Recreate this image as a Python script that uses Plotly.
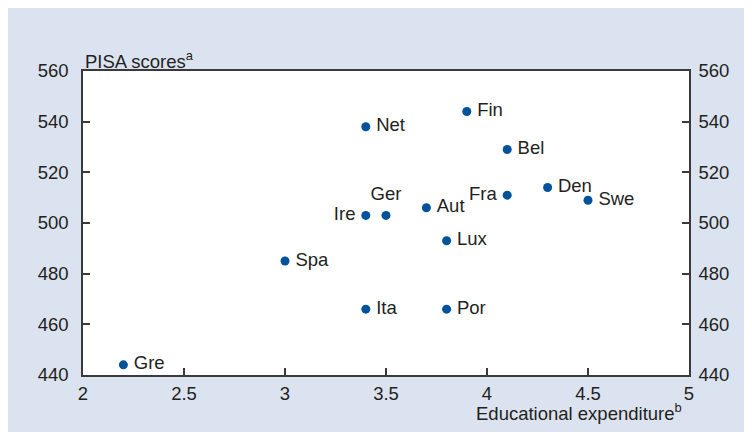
import plotly.graph_objects as go

countries = ["Gre", "Spa", "Ita", "Por", "Ire", "Ger", "Aut", "Lux", "Net", "Fin", "Bel", "Fra", "Den", "Swe"]
expenditure = [2.2, 3.0, 3.4, 3.8, 3.4, 3.5, 3.7, 3.8, 3.4, 3.9, 4.1, 4.1, 4.3, 4.5]
pisa = [444, 485, 466, 466, 503, 503, 506, 493, 538, 544, 529, 511, 514, 509]
label_pos = ["middle right", "middle right", "middle right", "middle right", "middle left",
             "top center", "middle right", "middle right", "middle right", "middle right",
             "middle right", "middle left", "middle right", "middle right"]
x_ticks = [2, 2.5, 3, 3.5, 4, 4.5, 5]
y_ticks = [440, 460, 480, 500, 520, 540, 560]

OFF = 8  # page body margin
W, H = 744, 424
L, T = 83 - OFF, 71 - OFF
pw, ph = 606, 304
R = W - L - pw
B = H - T - ph

def px2paperx(p):
    return (p - OFF - L) / pw

def py2papery(p):
    return (T + ph - (p - OFF)) / ph

TXT = "#231f20"
LINE = "#3a3a3a"
BG = "#dce3f0"
FONT = "Liberation Sans, Arial, sans-serif"
FS = 18.5

fig = go.Figure()
fig.add_trace(go.Scatter(
    x=expenditure, y=pisa, mode="markers",
    marker=dict(size=9, color="#00539b"),
    cliponaxis=False, showlegend=False,
))
fig.add_trace(go.Scatter(
    x=expenditure, y=pisa, mode="markers+text", text=countries,
    textposition=label_pos,
    textfont=dict(family=FONT, size=FS, color=TXT),
    marker=dict(size=15, color="rgba(0,0,0,0)"),
    cliponaxis=False, showlegend=False, hoverinfo="skip",
))
# invisible trace for right axis
fig.add_trace(go.Scatter(x=[None], y=[None], yaxis="y2", showlegend=False, hoverinfo="skip"))

axis_common = dict(
    showgrid=False, zeroline=False, showline=True, linecolor=LINE, linewidth=1.5,
    ticks="inside", ticklen=7, tickwidth=1.5, tickcolor=LINE,
    tickfont=dict(family=FONT, size=FS, color=TXT),
)

fig.update_layout(
    width=W, height=H,
    margin=dict(l=L, r=R, t=T, b=B, autoexpand=False),
    paper_bgcolor=BG, plot_bgcolor="white",
    xaxis=dict(range=[2, 5], tickvals=x_ticks, ticktext=[f"{v:g}" for v in x_ticks],
               mirror=True, ticklabelstandoff=1, **axis_common),
    yaxis=dict(range=[440, 560], tickvals=y_ticks, ticklabelstandoff=9, **axis_common),
    yaxis2=dict(range=[440, 560], tickvals=y_ticks, overlaying="y", side="right",
                ticklabelstandoff=4, **axis_common),
    annotations=[
        dict(text="PISA scores<sup>a</sup>", xref="paper", yref="paper",
             x=0, y=py2papery(60), xanchor="left", yanchor="middle", showarrow=False,
             font=dict(family=FONT, size=FS, color=TXT)),
        dict(text="Educational expenditure<sup>b</sup>", xref="paper", yref="paper",
             x=px2paperx(684), y=py2papery(412), xanchor="right", yanchor="middle", showarrow=False,
             font=dict(family=FONT, size=FS, color=TXT)),
    ],
)

fig.write_html("out.html")
